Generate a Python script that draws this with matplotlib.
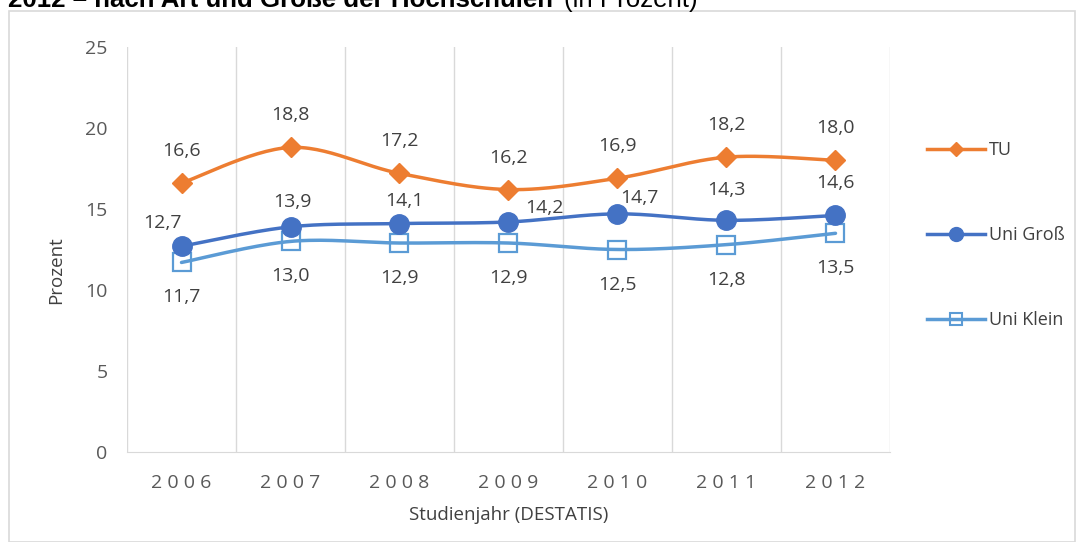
import numpy as np
import matplotlib.pyplot as plt
from matplotlib.lines import Line2D
from matplotlib.patches import Rectangle

years = ["2006", "2007", "2008", "2009", "2010", "2011", "2012"]
tu = [16.6, 18.8, 17.2, 16.2, 16.9, 18.2, 18.0]
uni_gross = [12.7, 13.9, 14.1, 14.2, 14.7, 14.3, 14.6]
uni_klein = [11.7, 13.0, 12.9, 12.9, 12.5, 12.8, 13.5]

# label offsets in pixels (dx, dy) for Uni Groß
gross_offsets = [(-19, 23), (2, 25), (5, 23), (36, 14), (22, 16), (0, 30), (0, 32)]

C_TU = "#ED7D31"
C_GROSS = "#4472C4"
C_KLEIN = "#5B9BD5"
TXT = "#404040"

plt.rcParams["font.family"] = ["Open Sans", "DejaVu Sans"]


def smooth(x, y, n=30):
    # Excel-like smoothed line (Catmull-Rom as cubic Bezier)
    x = np.asarray(x, float)
    y = np.asarray(y, float)
    px = np.concatenate([[x[0]], x, [x[-1]]])
    py = np.concatenate([[y[0]], y, [y[-1]]])
    xs, ys = [], []
    t = np.linspace(0, 1, n)
    for i in range(1, len(px) - 2):
        p0 = np.array([px[i - 1], py[i - 1]])
        p1 = np.array([px[i], py[i]])
        p2 = np.array([px[i + 1], py[i + 1]])
        p3 = np.array([px[i + 2], py[i + 2]])
        c1 = p1 + (p2 - p0) / 6
        c2 = p2 - (p3 - p1) / 6
        pts = ((1 - t) ** 3)[:, None] * p1 + (3 * (1 - t) ** 2 * t)[:, None] * c1 \
            + (3 * (1 - t) * t ** 2)[:, None] * c2 + (t ** 3)[:, None] * p2
        xs.append(pts[:, 0])
        ys.append(pts[:, 1])
    return np.concatenate(xs), np.concatenate(ys)


fig = plt.figure(figsize=(10.76, 5.42), dpi=100)
W, H = 1076, 542
ax = fig.add_axes([127 / W, (H - 452) / H, (890 - 127) / W, (452 - 47) / H])

# chart frame and the title of the page, cut off at the top like in the scan
fig.patches.append(Rectangle((9 / W, 0.5 / H), (1075 - 9) / W, (H - 11 - 0.5) / H,
                             transform=fig.transFigure, fill=False,
                             edgecolor="#D9D9D9", linewidth=1.2))
t1 = fig.text(8 / W, 1 - 7 / H, "2012 – nach Art und Größe der Hochschulen",
              fontsize=18.6, fontweight="bold", family="Liberation Sans",
              va="baseline", ha="left", color="black")
fig.canvas.draw()
bb = t1.get_window_extent()
fig.text((bb.x1 + 11) / W, 1 - 7 / H, "(in Prozent)", fontsize=18.6,
         family="Liberation Sans", va="baseline", ha="left", color="black")

x = np.arange(len(years))

series = [
    (uni_klein, C_KLEIN, "s", dict(markersize=13, markerfacecolor="none",
                                   markeredgewidth=1.6)),
    (uni_gross, C_GROSS, "o", dict(markersize=14)),
    (tu, C_TU, "D", dict(markersize=10)),
]
for vals, col, mk, kw in series:
    sx, sy = smooth(x, vals)
    ax.plot(sx, sy, color=col, linewidth=2.5, solid_capstyle="round", zorder=3)
    ax.plot(x, vals, linestyle="none", marker=mk, color=col, zorder=4, **kw)

LBL = 14
for i, v in enumerate(tu):
    ax.annotate(f"{v:.1f}".replace(".", ","), (x[i], v), xytext=(0, 32),
                textcoords="offset pixels", ha="center", va="center",
                fontsize=LBL, color=TXT)
for i, v in enumerate(uni_gross):
    dx, dy = gross_offsets[i]
    ax.annotate(f"{v:.1f}".replace(".", ","), (x[i], v), xytext=(dx, dy),
                textcoords="offset pixels", ha="center", va="center",
                fontsize=LBL, color=TXT)
for i, v in enumerate(uni_klein):
    ax.annotate(f"{v:.1f}".replace(".", ","), (x[i], v), xytext=(0, -35),
                textcoords="offset pixels", ha="center", va="center",
                fontsize=LBL, color=TXT)

ax.set_xlim(-0.5, len(years) - 0.5)
ax.set_ylim(0, 25)
ax.set_yticks(range(0, 26, 5))
ax.set_xticks(x)
ax.set_xticklabels([" ".join(y) for y in years])
ax.set_xticks(np.arange(-0.5, len(years), 1), minor=True)
ax.grid(True, which="minor", axis="x", color="#D9D9D9", linewidth=1)
ax.tick_params(axis="both", which="both", length=0, labelsize=14, colors="#595959")
ax.tick_params(axis="y", pad=14)
ax.tick_params(axis="x", pad=16)
for s in ["top", "right", "left"]:
    ax.spines[s].set_visible(False)
ax.spines["bottom"].set_color("#D9D9D9")

ax.set_xlabel("Studienjahr (DESTATIS)", fontsize=13.5, color=TXT, labelpad=10)
ax.set_ylabel("Prozent", fontsize=13.5, color=TXT)
ax.yaxis.set_label_coords(-62 / (890 - 127), (452 - 270) / (452 - 47))

handles = [
    Line2D([], [], color=C_TU, marker="D", markersize=7, linewidth=2.5),
    Line2D([], [], color=C_GROSS, marker="o", markersize=10, linewidth=2.5),
    Line2D([], [], color=C_KLEIN, marker="s", markersize=9, markerfacecolor="none",
           markeredgewidth=1.5, linewidth=2.5),
]
fig.legend(handles, ["TU", "Uni Groß", "Uni Klein"], loc="upper left",
           bbox_to_anchor=(911 / W, 1 - 125 / H), frameon=False, fontsize=13,
           labelspacing=3.7, handlelength=3.2, handletextpad=0.2, labelcolor=TXT)

fig.savefig("out.png", dpi=100)
